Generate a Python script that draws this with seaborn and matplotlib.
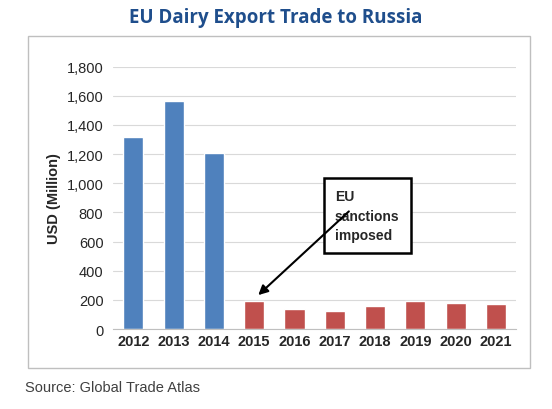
import matplotlib
matplotlib.use("Agg")
import matplotlib.pyplot as plt
import seaborn as sns
import pandas as pd
from matplotlib.patches import Rectangle

years = ["2012","2013","2014","2015","2016","2017","2018","2019","2020","2021"]
values = [1320,1565,1210,195,140,125,155,195,180,175]
period = ["pre","pre","pre","post","post","post","post","post","post","post"]

df = pd.DataFrame({"year": years, "value": values, "period": period})
sns.set_style("white")
plt.rcParams['font.family'] = ['Liberation Sans', 'DejaVu Sans']

fig = plt.figure(figsize=(5.52, 4.10), dpi=100)
ax = fig.add_axes([0.205, 0.195, 0.73, 0.64])
sns.barplot(data=df, x="year", y="value", hue="period", dodge=False, saturation=1,
            palette={"pre": "#4f81bd", "post": "#c0504d"}, width=0.5, ax=ax, legend=False)
ax.set_ylim(0, 1800)
ax.set_yticks(range(0, 1801, 200))
ax.set_yticklabels([f"{v:,}" for v in range(0, 1801, 200)], fontsize=10.5)
ax.set_xlabel("")
ax.set_ylabel("USD (Million)", fontsize=10.5, fontweight="bold")
ax.tick_params(axis="x", labelsize=10.5, length=0)
for l in ax.get_xticklabels():
    l.set_fontweight("bold")
ax.grid(axis="y", color="#d9d9d9", linewidth=0.8)
ax.set_axisbelow(True)
for s in ["top", "right", "left"]:
    ax.spines[s].set_visible(False)
ax.spines["bottom"].set_color("#bfbfbf")

fig.text(0.5, 0.955, "EU Dairy Export Trade to Russia", ha="center", va="center",
         fontsize=13.5, fontweight="bold", color="#1f4e8c", family=["Open Sans", "DejaVu Sans"])
fig.text(0.045, 0.045, "Source: Global Trade Atlas", fontsize=10.5, color="#404040")
fig.patches.append(Rectangle((0.05, 0.1), 0.91, 0.81, transform=fig.transFigure,
                             fill=False, edgecolor="#bfbfbf", linewidth=1))

ax.text(5.0, 960, "EU\nsanctions\nimposed", fontsize=10, fontweight="bold", va="top",
        ha="left", linespacing=1.5,
        bbox=dict(boxstyle="square,pad=0.8", fc="white", ec="black", lw=1.8))
ax.annotate("", xy=(3.05, 220), xytext=(5.4, 820),
            arrowprops=dict(arrowstyle="-|>", color="black", lw=1.5, mutation_scale=14))
fig.savefig("out.png", dpi=100)
